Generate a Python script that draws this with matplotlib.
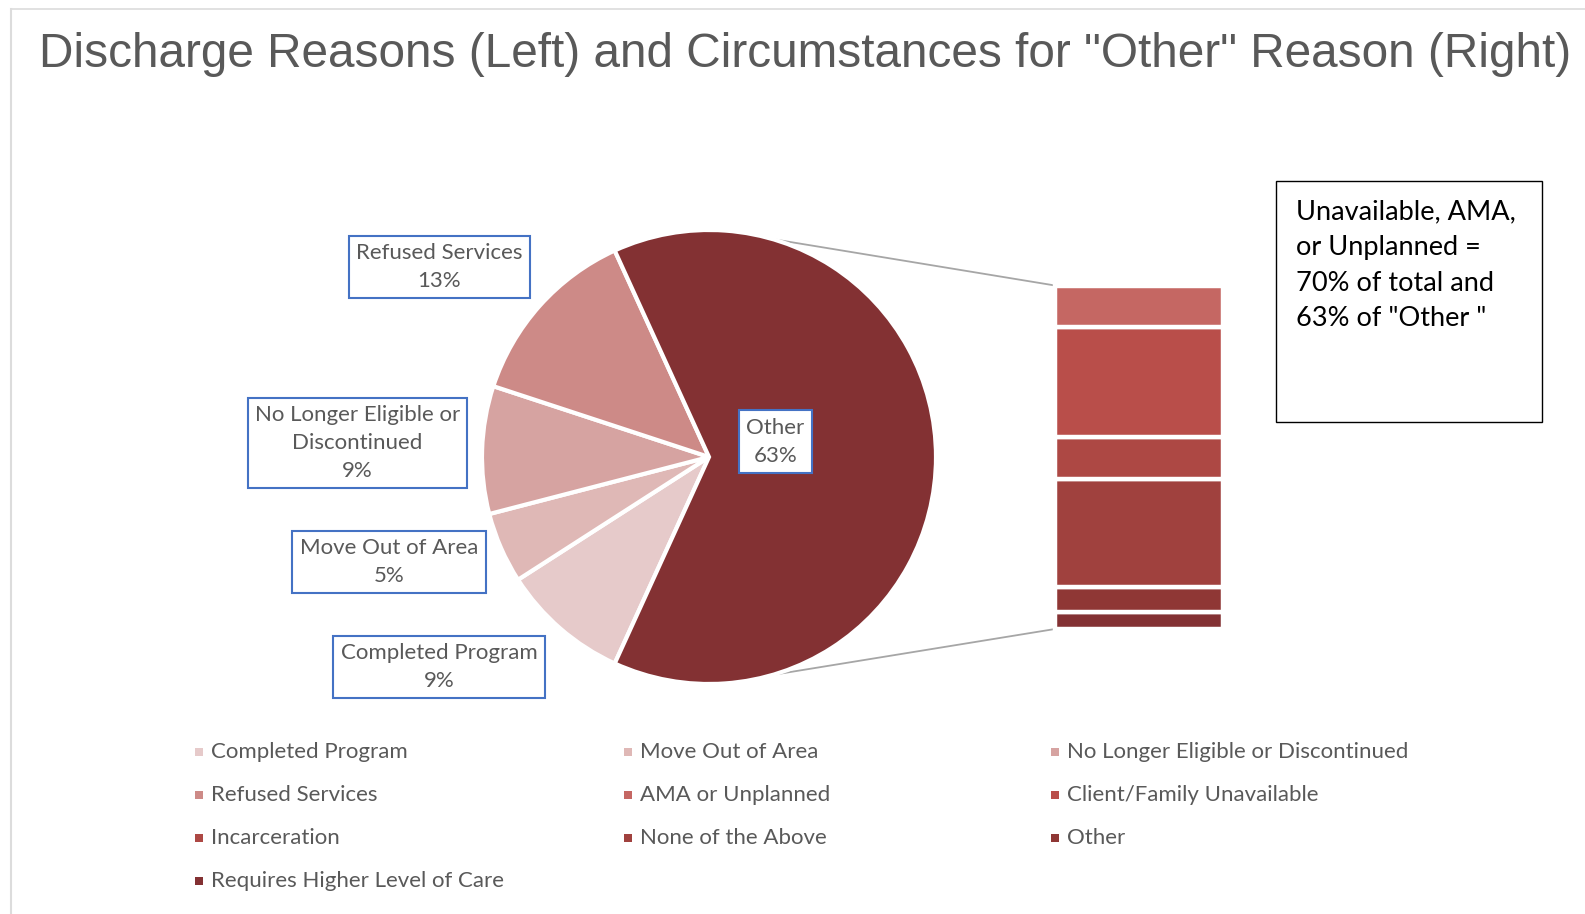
import textwrap

import numpy as np
import matplotlib.pyplot as plt
from matplotlib.patches import Rectangle

# discharge reasons (pie)
pie_labels = ["Completed Program", "Move Out of Area",
              "No Longer Eligible or Discontinued", "Refused Services", "Other"]
pie_pct = [9, 5, 9, 13, 63]
pie_colors = ["#e6caca", "#dfb8b6", "#d6a3a1", "#cd8a87", "#833133"]

# circumstances within "Other" (stacked bar, top to bottom)
bar_labels = ["AMA or Unplanned", "Client/Family Unavailable", "Incarceration",
              "None of the Above", "Other", "Requires Higher Level of Care"]
bar_pct = [7.7, 20.0, 7.7, 19.9, 4.6, 3.1]
bar_colors = ["#c56763", "#b94e4a", "#ad4844", "#a0413e", "#8f3735", "#833133"]

title = 'Discharge Reasons (Left) and Circumstances for "Other" Reason (Right)'
note = 'Unavailable, AMA,\nor Unplanned =\n70% of total and\n63% of "Other "'

W, H = 1585, 914
GREY = "#595959"
FONT = "Lato"


def Y(y):
    # work in pixel rows measured from the top
    return H - y


fig = plt.figure(figsize=(W / 100, H / 100), dpi=100)
ax = fig.add_axes([0, 0, 1, 1])

# pie, with the "Other" slice centred facing the bar
cx, cy, r = 709, Y(457), 227
start = 180 + 360 * sum(pie_pct[:-1]) / sum(pie_pct) / 2
wedges, _ = ax.pie(pie_pct, colors=pie_colors, startangle=start,
                   counterclock=False, center=(cx, cy), radius=r,
                   wedgeprops=dict(edgecolor="white", linewidth=3))

# stacked bar for the breakdown of "Other"
bar_x, bar_w = 1139, 168
bar_top, bar_bot = 285.5, 629
scale = (bar_bot - bar_top) / sum(bar_pct)
bottom = Y(bar_bot)
for lab, v, c in reversed(list(zip(bar_labels, bar_pct, bar_colors))):
    ax.bar(bar_x, v * scale, width=bar_w, bottom=bottom, color=c,
           edgecolor="white", linewidth=3.2)
    bottom += v * scale

# connector lines from the pie to the bar corners
ang = np.deg2rad(73.7)
for s, yb in [(1, bar_top), (-1, bar_bot)]:
    ax.plot([cx + r * np.cos(ang), bar_x - bar_w / 2],
            [cy + s * r * np.sin(ang), Y(yb)],
            color="#a6a6a6", lw=1.3, zorder=0)

# data labels
label_pos = [(439, 667), (389, 562), (357.5, 443), (439.5, 267), (775.5, 441.5)]
for lab, p, (x, y) in zip(pie_labels, pie_pct, label_pos):
    ax.text(x, Y(y), textwrap.fill(lab, 22) + "\n%d%%" % p, ha="center",
            va="center", fontsize=16, family=FONT, color=GREY,
            linespacing=1.5,
            bbox=dict(boxstyle="square,pad=0.33", fc="white",
                      ec="#4472c4", lw=1.5))

ax.set_xlim(0, W)
ax.set_ylim(0, H)
ax.set_aspect("auto")
ax.axis("off")

# note box
ax.add_patch(Rectangle((1275.5, Y(422)), 266.5, 241, fc="white",
                       ec="black", lw=1))
ax.text(1296, Y(199), note, ha="left", va="top", fontsize=19.5,
        family=FONT, color="black", linespacing=1.54)

# legend, row by row in three columns
legend_labels = pie_labels[:-1] + bar_labels
legend_colors = pie_colors[:-1] + bar_colors
col_x = [199, 628, 1055]
row_y = [752, 795, 837.5, 881]
for i, (lab, c) in enumerate(zip(legend_labels, legend_colors)):
    x, y = col_x[i % 3], row_y[i // 3]
    ax.add_patch(Rectangle((x - 4, Y(y) - 4), 8, 8, fc=c, ec="none"))
    ax.text(x + 12, Y(y), lab, ha="left", va="center", fontsize=16,
            family=FONT, color=GREY)

# title and chart area border
ax.text(39, Y(67), title, ha="left", va="baseline", fontsize=34.4,
        family="Liberation Sans", color=GREY)
ax.plot([11, W], [Y(9), Y(9)], color="#dcdcdc", lw=1.2)
ax.plot([11, 11], [Y(9), 0], color="#dcdcdc", lw=1.5)

fig.savefig("out.png", dpi=100)
